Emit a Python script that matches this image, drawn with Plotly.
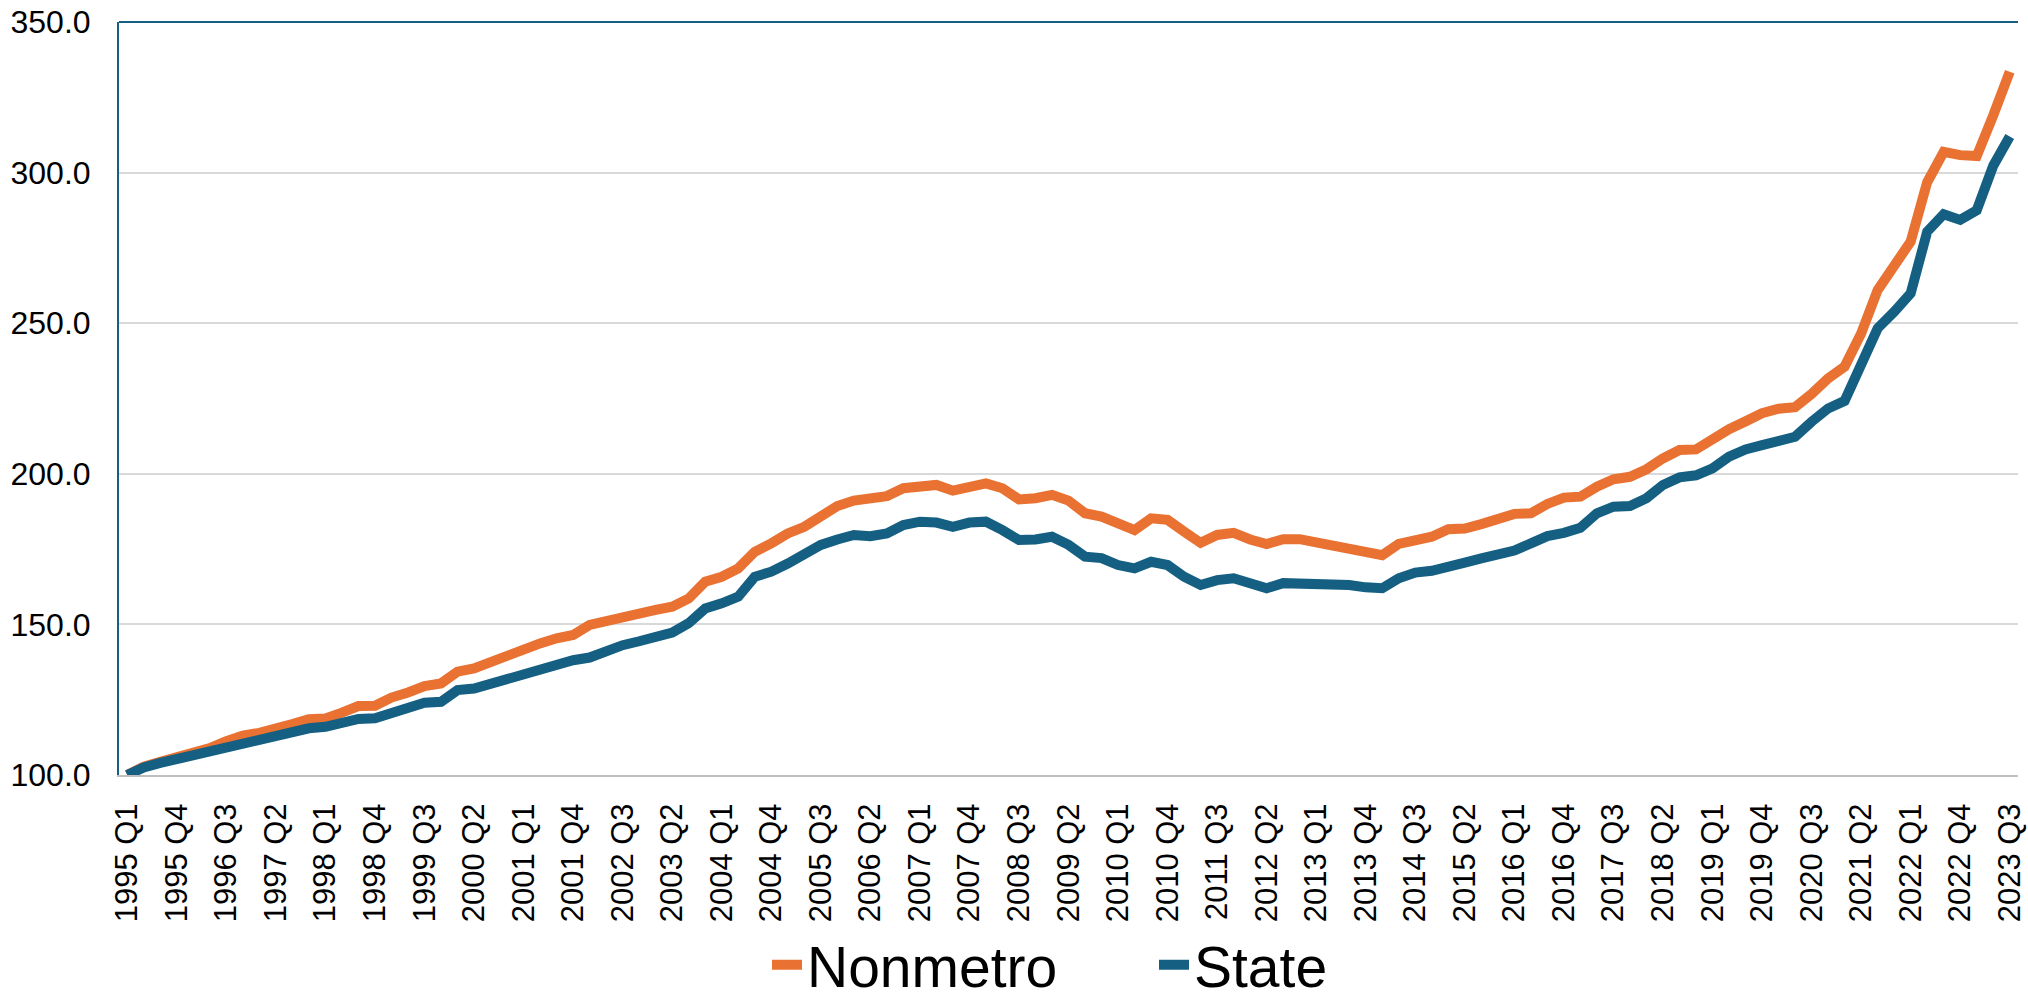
import plotly.graph_objects as go

years = list(range(1995, 2024))
quarters = [f"{y} Q{q}" for y in years for q in (1, 2, 3, 4)][:115]  # 1995 Q1 .. 2023 Q3
tick_labels = quarters[::3]

nonmetro = [
    100.0, 102.8, 104.4, 106.0, 107.0, 108.9, 111.2, 113.1, 114.0, 115.2,
    116.9, 118.5, 118.8, 120.7, 122.9, 123.0, 125.7, 127.4, 129.5, 130.4,
    134.3, 135.4, 137.6, 139.3, 141.5, 143.7, 145.4, 146.5, 149.8, 151.2,
    152.3, 153.5, 154.8, 155.9, 158.6, 164.2, 165.8, 168.6, 174.1, 176.9,
    180.2, 182.4, 186.3, 189.3, 191.1, 191.5, 192.6, 195.2, 196.0, 196.3,
    194.4, 195.5, 196.8, 195.2, 191.5, 191.9, 193.0, 191.1, 186.9, 185.8,
    183.8, 181.3, 185.2, 184.7, 180.8, 177.1, 179.7, 180.4, 178.2, 176.7,
    178.3, 178.3, 177.2, 176.1, 175.0, 174.6, 173.0, 176.7, 178.3, 179.1,
    181.6, 181.8, 183.3, 185.2, 186.7, 186.9, 190.0, 192.1, 192.4, 195.7,
    198.2, 199.0, 201.5, 205.1, 207.9, 208.1, 211.8, 214.8, 217.4, 220.1,
    221.6, 222.1, 226.5, 231.7, 235.6, 246.6, 261.0, 269.3, 277.1, 296.8,
    306.9, 305.8, 305.5, 319.0, 333.5,
]

state = [
    100.0, 102.5, 104.0, 105.3, 106.2, 107.3, 109.0, 110.3, 111.7, 112.8,
    114.4, 115.5, 116.0, 117.4, 118.6, 118.8, 120.8, 122.7, 124.0, 124.3,
    128.2, 128.7, 130.4, 131.7, 133.5, 135.0, 136.7, 138.1, 139.0, 141.2,
    143.1, 144.4, 145.5, 147.3, 150.4, 155.3, 157.0, 159.2, 165.8, 167.5,
    170.2, 173.3, 176.4, 178.2, 179.7, 179.3, 180.2, 183.0, 184.1, 183.8,
    182.4, 183.8, 184.1, 181.3, 178.0, 178.2, 179.1, 176.4, 172.5, 172.0,
    169.7, 168.6, 170.8, 169.7, 165.8, 163.1, 164.7, 165.3, 163.4, 162.0,
    163.7, 163.7, 163.1, 163.1, 163.1, 162.3, 162.0, 165.3, 167.2, 167.8,
    168.8, 170.5, 171.9, 172.8, 174.5, 176.9, 179.3, 180.4, 182.1, 186.9,
    189.1, 189.3, 191.9, 196.3, 198.8, 199.5, 201.8, 205.7, 208.1, 209.5,
    211.2, 212.3, 217.3, 221.7, 224.2, 236.1, 248.3, 253.8, 259.9, 280.4,
    286.2, 284.3, 287.5, 302.3, 312.0,
]

ORANGE = "#E97132"
BLUE = "#156082"
FONT = "Liberation Sans, Arial, sans-serif"

W, H = 2028, 999
ML, MR, MT, MB = 119, 10, 22, 224
PW = W - ML - MR

fig = go.Figure()
fig.add_trace(go.Scatter(x=quarters, y=nonmetro, mode="lines", name="Nonmetro",
                         line=dict(color=ORANGE, width=10)))
fig.add_trace(go.Scatter(x=quarters, y=state, mode="lines", name="State",
                         line=dict(color=BLUE, width=10)))

fig.update_layout(
    width=W, height=H,
    margin=dict(l=ML, r=MR, t=MT, b=MB, autoexpand=False),
    paper_bgcolor="white", plot_bgcolor="white",
    font=dict(family=FONT, color="black"),
    showlegend=True,
    legend=dict(orientation="h", x=(767 - ML) / PW, xanchor="left",
                y=-0.2527, yanchor="middle",
                font=dict(size=57, family=FONT, color="black"),
                itemwidth=30, entrywidth=342, entrywidthmode="pixels",
                tracegroupgap=0, bgcolor="rgba(0,0,0,0)"),
    xaxis=dict(type="category", categoryorder="array", categoryarray=quarters,
               range=[-0.5, len(quarters) - 0.5], automargin=False,
               tickmode="array", tickvals=tick_labels, ticktext=tick_labels,
               tickangle=-90, tickfont=dict(size=31, family=FONT, color="black"),
               showgrid=False, showline=True, linecolor="#bfbfbf", linewidth=2,
               ticks="", ticklabelstandoff=14, zeroline=False,
               ticklabeloverflow="allow"),
    yaxis=dict(range=[100, 350], tickmode="linear", tick0=100, dtick=50,
               automargin=False, ticklabeloverflow="allow",
               tickformat=".1f", tickfont=dict(size=32, family=FONT, color="black"),
               showgrid=True, gridcolor="#d9d9d9", gridwidth=2,
               showline=True, linecolor=BLUE, linewidth=2,
               ticks="", ticklabelstandoff=20, zeroline=False),
)

fig.add_shape(type="line", xref="paper", yref="paper", x0=0, x1=1, y0=1, y1=1,
              line=dict(color=BLUE, width=2))

fig.write_html("out.html",
               config={"displayModeBar": False},
               post_script="document.body.style.margin='0';document.body.style.overflow='hidden';")
